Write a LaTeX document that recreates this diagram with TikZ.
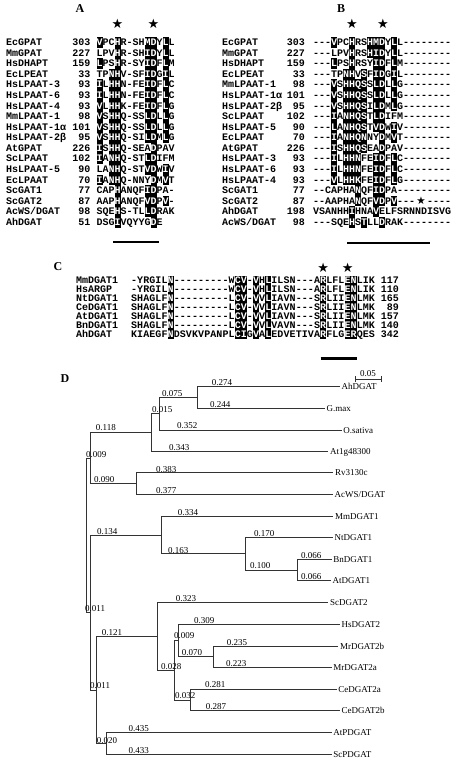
\documentclass[tikz,border=0pt]{standalone}
\usepackage{fontspec}
\setmainfont{Liberation Serif}
\newfontfamily\mono{Liberation Mono}
\newfontfamily\symfont{DejaVu Sans}
\newcount\seqcol
\def\cw{6}\def\rth{8.5pt}\def\rtd{2.1pt}
\newcommand\seqrow[5]{\def\sqname{#1}\def\sqx{#2}\def\sqy{#3}\seqcol=0 \seqproc#4\relax#5\relax}
\def\seqproc#1#2\relax#3#4\relax{\seqput{#1}{#3}\advance\seqcol by 1 \ifx\relax#2\relax\else\seqproc#2\relax#4\relax\fi}
\def\seqput#1#2{\if x#2\node[resb] (\sqname-\the\seqcol) at ({\sqx+\the\seqcol*\cw+\cw/2},\sqy) {#1};\else\node[res] (\sqname-\the\seqcol) at ({\sqx+\the\seqcol*\cw+\cw/2},\sqy) {#1};\fi}
\newcommand\Arow[5]{\pgfmathsetmacro\ry{42.3+10.59*(#1-1)+3.2}%
  \node[nm,anchor=base west] (An#1) at (6,\ry) {#2};%
  \node[nm,anchor=base east] (Aq#1) at (90.5,\ry) {#3};%
  \seqrow{A#1}{96.5}{\ry}{#4}{#5}}
\newcommand\Brow[5]{\pgfmathsetmacro\ry{42.3+10.59*(#1-1)+3.2}%
  \node[nm,anchor=base west] (Bn#1) at (222,\ry) {#2};%
  \node[nm,anchor=base east] (Bq#1) at (305,\ry) {#3};%
  \seqrow{B#1}{313}{\ry}{#4}{#5}}
\newcommand\Crow[5]{\pgfmathsetmacro\ry{280+9.05*(#1-1)+3.2}%
  \node[nm,anchor=base west] (Cn#1) at (76,\ry) {#2};%
  \node[nm,anchor=base east] (Cq#1) at (399,\ry) {#3};%
  \seqrow{C#1}{131}{\ry}{#4}{#5}}
\tikzset{
  nm/.style={inner sep=0pt, font=\mono\bfseries\fontsize{10}{10}\selectfont},
  res/.style={anchor=base, inner sep=0pt, minimum width=\cw pt, text height=\rth, text depth=\rtd, font=\mono\bfseries\fontsize{10}{10}\selectfont},
  resb/.style={res, fill=black, text=white},
  panel/.style={inner sep=0pt, font=\bfseries\fontsize{12}{12}\selectfont},
  starmark/.style={inner sep=0pt, font=\symfont\fontsize{13}{13}\selectfont},
  ul/.style={line width=2.6pt},
  br/.style={draw=black!80, line width=0.6pt},
  leaf/.style={anchor=base west, inner sep=0pt, yshift=-3.2pt, font=\fontsize{9}{9}\selectfont},
  bl/.style={anchor=base west, inner sep=0pt, yshift=-3.1pt, font=\fontsize{9}{9}\selectfont},
}
\begin{document}
\begin{tikzpicture}[x=1pt,y=-1pt]
\fill[white] (0,0) rectangle (462,762);
\useasboundingbox (0,0) rectangle (462,762);
% ---------- panel A ----------
\node[panel] (lA) at (80,9) {A};
\node[starmark] (sA1) at (117.5,23.5) {★};
\node[starmark] (sA2) at (153.5,23.5) {★};
\Arow{1}{EcGPAT}{303}{VPCHR-SHMDYLL}{x..x....xx.x.}
\Arow{2}{MmGPAT}{227}{LPVHR-SHIDYLL}{...x....xx.x.}
\Arow{3}{HsDHAPT}{159}{LPSHR-SYIDFLM}{x..x....xx.x.}
\Arow{4}{EcLPEAT}{33}{TPNHV-SFIDGIL}{..xx....xx.x.}
\Arow{5}{HsLPAAT-3}{93}{ILHHN-FEIDFLC}{x.xx....xx.x.}
\Arow{6}{HsLPAAT-6}{93}{ILHHN-FEIDFLC}{x.xx....xx.x.}
\Arow{7}{HsLPAAT-4}{93}{VLHHK-FEIDFLG}{x.xx....xx.x.}
\Arow{8}{MmLPAAT-1}{98}{VSHHQ-SSLDLLG}{x.xx....xx.x.}
\Arow{9}{HsLPAAT-1α}{101}{VSHHQ-SSLDLLG}{x.xx....xx.x.}
\Arow{10}{HsLPAAT-2β}{95}{VSHHQ-SILDMLG}{x.xx....xx.x.}
\Arow{11}{AtGPAT}{226}{ISHHQ-SEADPAV}{x.xx.....x...}
\Arow{12}{ScLPAAT}{102}{IANHQ-STLDIFM}{x.xx....xx...}
\Arow{13}{HsLPAAT-5}{90}{LANHQ-STVDWIV}{..xx....xx.x.}
\Arow{14}{EcLPAAT}{70}{IANHQ-NNYDMVT}{x.xx.....x.x.}
\Arow{15}{ScGAT1}{77}{CAPHANQFIDPA-}{...x....xx...}
\Arow{16}{ScGAT2}{87}{AAPHANQFVDPV-}{...x....xx.x.}
\Arow{17}{AcWS/DGAT}{98}{SQEHS-TLLDRAK}{...x....xx...}
\Arow{18}{AhDGAT}{51}{DSGIVQYYGDE}{...x.....x.}
\draw[ul] (113,242) -- (159,242);
% ---------- panel B ----------
\node[panel] (lB) at (341,9) {B};
\node[starmark] (sB1) at (352,23.5) {★};
\node[starmark] (sB2) at (383,23.5) {★};
\Brow{1}{EcGPAT}{303}{---VPCHRSHMDYLL--------}{...x..x..xxx.x.........}
\Brow{2}{MmGPAT}{227}{---LPVHRSHIDYLL--------}{......x..xxx.x.........}
\Brow{3}{HsDHAPT}{159}{---LPSHRSYIDFLM--------}{...x..x...xx.x.........}
\Brow{4}{EcLPEAT}{33}{---TPNHVSFIDGIL--------}{.....xx.x.xx.x.........}
\Brow{5}{MmLPAAT-1}{98}{---VSHHQSSLDLLG--------}{...x.xxxx.xx.x.........}
\Brow{6}{HsLPAAT-1α}{101}{---VSHHQSSLDLLG--------}{...x.xxxx.xx.x.........}
\Brow{7}{HsLPAAT-2β}{95}{---VSHHQSILDMLG--------}{...x.xxxx.xx.x.........}
\Brow{8}{ScLPAAT}{102}{---IANHQSTLDIFM--------}{...x.xxxx.xx...........}
\Brow{9}{HsLPAAT-5}{90}{---LANHQSTVDWIV--------}{...x.xxxx.xx.x.........}
\Brow{10}{EcLPAAT}{70}{---IANHQNNYDMVT--------}{...x.xxxx..x.x.........}
\Brow{11}{AtGPAT}{226}{---ISHHQSEADPAV--------}{...x.xxxx..x...........}
\Brow{12}{HsLPAAT-3}{93}{---ILHHNFEIDFLC--------}{...x.xxx..xx.x.........}
\Brow{13}{HsLPAAT-6}{93}{---ILHHNFEIDFLC--------}{...x.xxx..xx.x.........}
\Brow{14}{HsLPAAT-4}{93}{---VLHHKFEIDFLG--------}{...x.xxx..xx.x.........}
\Brow{15}{ScGAT1}{77}{--CAPHANQFIDPA---------}{.......x..xx...........}
\Brow{16}{ScGAT2}{87}{--AAPHANQFVDPV---}{.......x..xx.x...}
\pgfmathsetmacro\ry{42.3+10.59*15+3.2}
\seqrow{B16t}{427}{\ry}{----}{....}
\Brow{17}{AhDGAT}{198}{VSANHHIHNAVELFSRNNDISVG}{......x...x............}
\Brow{18}{AcWS/DGAT}{98}{---SQEHSTLLDRAK--------}{......x.x..x...........}
\node[starmark, font=\symfont\fontsize{10.5}{10.5}\selectfont] (sB3) at (421,201.2) {★};
\draw[ul] (347,243) -- (430,243);
% ---------- panel C ----------
\node[panel] (lC) at (58,267) {C};
\node[starmark] (sC1) at (323.2,267.5) {★};
\node[starmark] (sC2) at (347.6,267.5) {★};
\def\cw{6.1}\def\rth{7.7pt}\def\rtd{1.35pt}
\Crow{1}{MmDGAT1}{117}{-YRGILN---------WCV-VHLILSN---ARLFLENLIK}{......x..........xx.x.x........x...xx...}
\Crow{2}{HsARGP}{110}{-YRGILN---------WCV-VHLILSN---ARLFLENLIK}{......x..........xx.x.x........x...xx...}
\Crow{3}{NtDGAT1}{165}{SHAGLFN---------LCV-VVLIAVN---SRLIIENLMK}{......x..........xx.x.x........x...xx...}
\Crow{4}{CeDGAT1}{89}{SHAGLFN---------LCV-VVLIAVN---SRLIIENLMK}{......x..........xx.x.x........x...xx...}
\Crow{5}{AtDGAT1}{157}{SHAGLFN---------LCV-VVLIAVN---SRLIIENLMK}{......x..........xx.x.x........x...xx...}
\Crow{6}{BnDGAT1}{140}{SHAGLFN---------LCV-VVLVAVN---SRLIIENLMK}{......x..........xx.x.x........x...xx...}
\Crow{7}{AhDGAT}{342}{KIAEGFNDSVKVPANPLCIGVALEDVETIVARFLGERQES}{......x..........xx.x.x........x...xx...}
\draw[ul] (320.7,358.5) -- (356.7,358.5);
% ---------- panel D ----------
\node[panel] (lD) at (65,379) {D};
\coordinate (sb1) at (355,379); \coordinate (sb2) at (381,379);
\draw[br] (sb1) -- (sb2) ([yshift=3pt]sb1) -- ([yshift=-3pt]sb1) ([yshift=3pt]sb2) -- ([yshift=-3pt]sb2);
\node[anchor=base, inner sep=0pt, font=\fontsize{9}{9}\selectfont] (sbl) at (368,376.5) {0.05};
% leaves
\coordinate (eAh) at (340,386);     \node[leaf] (tAh) at (341.5,386) {AhDGAT};
\coordinate (eGm) at (325,408.3);   \node[leaf] (tGm) at (326.5,408.3) {G.max};
\coordinate (eOs) at (341.7,430);   \node[leaf] (tOs) at (343.2,430) {O.sativa};
\coordinate (eAt1g) at (328.3,451.7); \node[leaf] (tAt1g) at (329.8,451.7) {At1g48300};
\coordinate (eRv) at (333.3,472.7); \node[leaf] (tRv) at (334.8,472.7) {Rv3130c};
\coordinate (eAcws) at (333,494);   \node[leaf] (tAcws) at (334.5,494) {AcWS/DGAT};
\coordinate (eMm) at (333.3,516);   \node[leaf] (tMm) at (334.8,516) {MmDGAT1};
\coordinate (eNt) at (333,537.7);   \node[leaf] (tNt) at (334.5,537.7) {NtDGAT1};
\coordinate (eBn) at (331.7,559.3); \node[leaf] (tBn) at (333.2,559.3) {BnDGAT1};
\coordinate (eAtd) at (331,580);    \node[leaf] (tAtd) at (332.5,580) {AtDGAT1};
\coordinate (eSc2) at (328.3,602.7); \node[leaf] (tSc2) at (329.8,602.7) {ScDGAT2};
\coordinate (eHs2) at (340,624);    \node[leaf] (tHs2) at (341.5,624) {HsDGAT2};
\coordinate (eMr2b) at (338.3,646.7); \node[leaf] (tMr2b) at (339.8,646.7) {MrDGAT2b};
\coordinate (eMr2a) at (331.7,667.7); \node[leaf] (tMr2a) at (333.2,667.7) {MrDGAT2a};
\coordinate (eCe2a) at (336.7,689.3); \node[leaf] (tCe2a) at (338.2,689.3) {CeDGAT2a};
\coordinate (eCe2b) at (340,710);   \node[leaf] (tCe2b) at (341.5,710) {CeDGAT2b};
\coordinate (eAtp) at (331.7,732.3); \node[leaf] (tAtp) at (333.2,732.3) {AtPDGAT};
\coordinate (eScp) at (331.7,754.3); \node[leaf] (tScp) at (333.2,754.3) {ScPDGAT};
% internal nodes
\coordinate (root) at (86,535);
\coordinate (n009) at (90,458);
\coordinate (n118) at (151.7,432.3);
\coordinate (n015) at (159.3,413.7);
\coordinate (n075) at (197.7,397);
\coordinate (n090) at (136,483.3);
\coordinate (n011a) at (90.7,612.7);
\coordinate (n134) at (161,535);
\coordinate (n163) at (245.7,553.3);
\coordinate (n100) at (297,570);
\coordinate (n011b) at (96,690);
\coordinate (n121) at (157.7,636.7);
\coordinate (n028) at (174.3,670);
\coordinate (n009b) at (178.3,640);
\coordinate (n070) at (213.3,656.7);
\coordinate (n032) at (190,700);
\coordinate (n020) at (106,743.3);
\draw[br] (root) |- (n009); \draw[br] (root) |- (n011a);
\draw[br] (n009) |- (n118); \draw[br] (n009) |- (n090);
\draw[br] (n118) |- (n015); \draw[br] (n118) |- (eAt1g);
\draw[br] (n015) |- (n075); \draw[br] (n015) |- (eOs);
\draw[br] (n075) |- (eAh); \draw[br] (n075) |- (eGm);
\draw[br] (n090) |- (eRv); \draw[br] (n090) |- (eAcws);
\draw[br] (n011a) |- (n134); \draw[br] (n011a) |- (n011b);
\draw[br] (n134) |- (eMm); \draw[br] (n134) |- (n163);
\draw[br] (n163) |- (eNt); \draw[br] (n163) |- (n100);
\draw[br] (n100) |- (eBn); \draw[br] (n100) |- (eAtd);
\draw[br] (n011b) |- (n121); \draw[br] (n011b) |- (n020);
\draw[br] (n121) |- (eSc2); \draw[br] (n121) |- (n028);
\draw[br] (n028) |- (n009b); \draw[br] (n028) |- (n032);
\draw[br] (n009b) |- (eHs2); \draw[br] (n009b) |- (n070);
\draw[br] (n070) |- (eMr2b); \draw[br] (n070) |- (eMr2a);
\draw[br] (n032) |- (eCe2a); \draw[br] (n032) |- (eCe2b);
\draw[br] (n020) |- (eAtp); \draw[br] (n020) |- (eScp);
% branch lengths
\node[bl] (b1) at (211.7,382.3) {0.274};
\node[bl] (b2) at (210,404) {0.244};
\node[bl] (b3) at (162,393) {0.075};
\node[bl] (b4) at (152,409.3) {0.015};
\node[bl] (b5) at (177,425.7) {0.352};
\node[bl] (b6) at (169,447) {0.343};
\node[bl] (b7) at (95.7,427.7) {0.118};
\node[bl] (b8) at (86,454.3) {0.009};
\node[bl] (b9) at (156,469) {0.383};
\node[bl] (b10) at (156,490) {0.377};
\node[bl] (b11) at (94,479) {0.090};
\node[bl] (b12) at (177.7,512.3) {0.334};
\node[bl] (b13) at (97,531.7) {0.134};
\node[bl] (b14) at (168,550) {0.163};
\node[bl] (b15) at (254,533.7) {0.170};
\node[bl] (b16) at (250,565.7) {0.100};
\node[bl] (b17) at (301,555) {0.066};
\node[bl] (b18) at (301,576.7) {0.066};
\node[bl] (b19) at (85,608.7) {0.011};
\node[bl] (b20) at (175.7,598.3) {0.323};
\node[bl] (b21) at (101.7,632.3) {0.121};
\node[bl] (b22) at (194,620) {0.309};
\node[bl] (b23) at (174,635.7) {0.009};
\node[bl] (b24) at (181.7,652.7) {0.070};
\node[bl] (b25) at (226.7,642.3) {0.235};
\node[bl] (b26) at (226,663.3) {0.223};
\node[bl] (b27) at (161,666) {0.028};
\node[bl] (b28) at (175,695.7) {0.032};
\node[bl] (b29) at (205,684.3) {0.281};
\node[bl] (b30) at (205.7,706.7) {0.287};
\node[bl] (b31) at (90,685.7) {0.011};
\node[bl] (b32) at (96.7,740) {0.020};
\node[bl] (b33) at (128.3,728.3) {0.435};
\node[bl] (b34) at (128.3,750.7) {0.433};
\end{tikzpicture}
\end{document}
